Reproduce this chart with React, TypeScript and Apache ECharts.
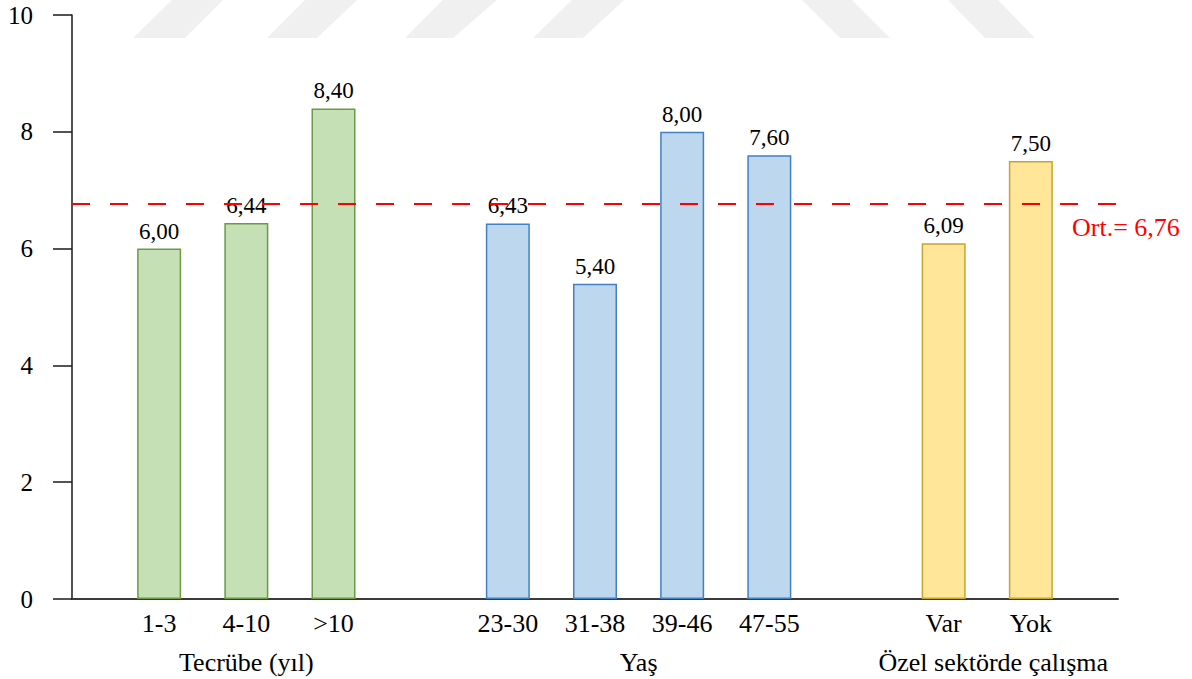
import React, { useEffect, useRef } from "react";
import * as echarts from "echarts";

const categories = ["", "1-3", "4-10", ">10", "", "23-30", "31-38", "39-46", "47-55", "", "Var", "Yok", ""];
const values: (number | null)[] = [null, 6.0, 6.44, 8.4, null, 6.43, 5.4, 8.0, 7.6, null, 6.09, 7.5, null];
const groupIndex: (number | null)[] = [null, 0, 0, 0, null, 1, 1, 1, 1, null, 2, 2, null];
const groupNames = ["Tecrübe (yıl)", "Yaş", "Özel sektörde çalışma"];
const groupFirst = [1, 5, 10];
const groupLast = [3, 8, 11];
const groupFill = ["#C5E0B4", "#BDD7EE", "#FFE699"];
const groupBorder = ["#6A9A45", "#4280C2", "#C9A330"];
const average = 6.76;
const averageLabel = "Ort.= 6,76";
const yMin = 0;
const yMax = 10;
const yInterval = 2;

const FONT = "Liberation Serif";

export default function App() {
  const ref = useRef<HTMLDivElement>(null);
  useEffect(() => {
    document.body.style.margin = "0";
    if (!ref.current) return;
    const chart = echarts.init(ref.current, undefined, { renderer: "svg" });
    const fmt = (v: number) => v.toFixed(2).replace(".", ",");
    const data = values.map((v, i) => {
      const g = groupIndex[i];
      if (v === null || g === null) return "-";
      return {
        value: v,
        itemStyle: { color: groupFill[g], borderColor: groupBorder[g], borderWidth: 1.5 },
      };
    });
    chart.setOption({
      animation: false,
      backgroundColor: "#ffffff",
      textStyle: { fontFamily: FONT },
      grid: { left: 72, right: 74, top: 15, bottom: 80, containLabel: false },
      xAxis: {
        type: "category",
        data: categories,
        boundaryGap: false,
        axisLine: { lineStyle: { color: "#3a3a3a", width: 2 } },
        axisTick: { show: false },
        axisLabel: { color: "#000", fontFamily: FONT, fontSize: 26, margin: 11, interval: 0 },
      },
      yAxis: {
        type: "value",
        min: yMin,
        max: yMax,
        interval: yInterval,
        axisLine: { show: true, lineStyle: { color: "#1a1a1a", width: 1.5 } },
        axisTick: { show: true, length: 19, lineStyle: { color: "#1a1a1a", width: 1.5 } },
        splitLine: { show: false },
        axisLabel: { color: "#000", fontFamily: FONT, fontSize: 25, margin: 39 },
      },
      series: [
        {
          type: "bar",
          data,
          barWidth: 44,
          label: {
            show: true,
            position: "top",
            distance: 6,
            color: "#000",
            fontFamily: FONT,
            fontSize: 23,
            formatter: (p: any) => fmt(p.value),
          },
          markLine: {
            silent: true,
            symbol: ["none", "none"],
            label: { show: false },
            lineStyle: { color: "#FF0000", type: [18, 20], width: 2 },
            data: [{ yAxis: average }],
            z: 10,
          },
        },
      ],
    });

    const graphics: any[] = [];
    const wm: number[][][] = [
      [[172, 0], [223, 0], [185, 38], [133, 38]],
      [[305, 0], [357, 0], [317, 38], [267, 38]],
      [[443, 0], [497, 0], [453, 38], [405, 38]],
      [[572, 0], [624, 0], [583, 38], [533, 38]],
      [[802, 0], [852, 0], [890, 38], [840, 38]],
      [[948, 0], [998, 0], [1035, 38], [985, 38]],
    ];
    wm.forEach((pts) =>
      graphics.push({ type: "polygon", z: -10, silent: true, shape: { points: pts }, style: { fill: "#F0F0F0" } })
    );
    const axisY = chart.convertToPixel({ yAxisIndex: 0 }, 0) as number;
    groupNames.forEach((name, gi) => {
      const x1 = chart.convertToPixel({ xAxisIndex: 0 }, categories[groupFirst[gi]]) as number;
      const x2 = chart.convertToPixel({ xAxisIndex: 0 }, categories[groupLast[gi]]) as number;
      graphics.push({
        type: "text",
        z: 100,
        x: (x1 + x2) / 2 + (gi === 2 ? 6 : 0),
        y: axisY + 63,
        style: { text: name, font: `26px ${FONT}`, fill: "#000", align: "center", verticalAlign: "middle" },
      });
    });
    const avgY = chart.convertToPixel({ yAxisIndex: 0 }, average) as number;
    const w = chart.getWidth();
    graphics.push({
      type: "text",
      z: 100,
      x: w - 74 - 46,
      y: avgY + 23,
      style: { text: averageLabel, font: `26px ${FONT}`, fill: "#FF0000", align: "left", verticalAlign: "middle" },
    });
    chart.setOption({ graphic: graphics });
    return () => chart.dispose();
  }, []);
  return <div ref={ref} style={{ width: 1192, height: 679 }} />;
}
